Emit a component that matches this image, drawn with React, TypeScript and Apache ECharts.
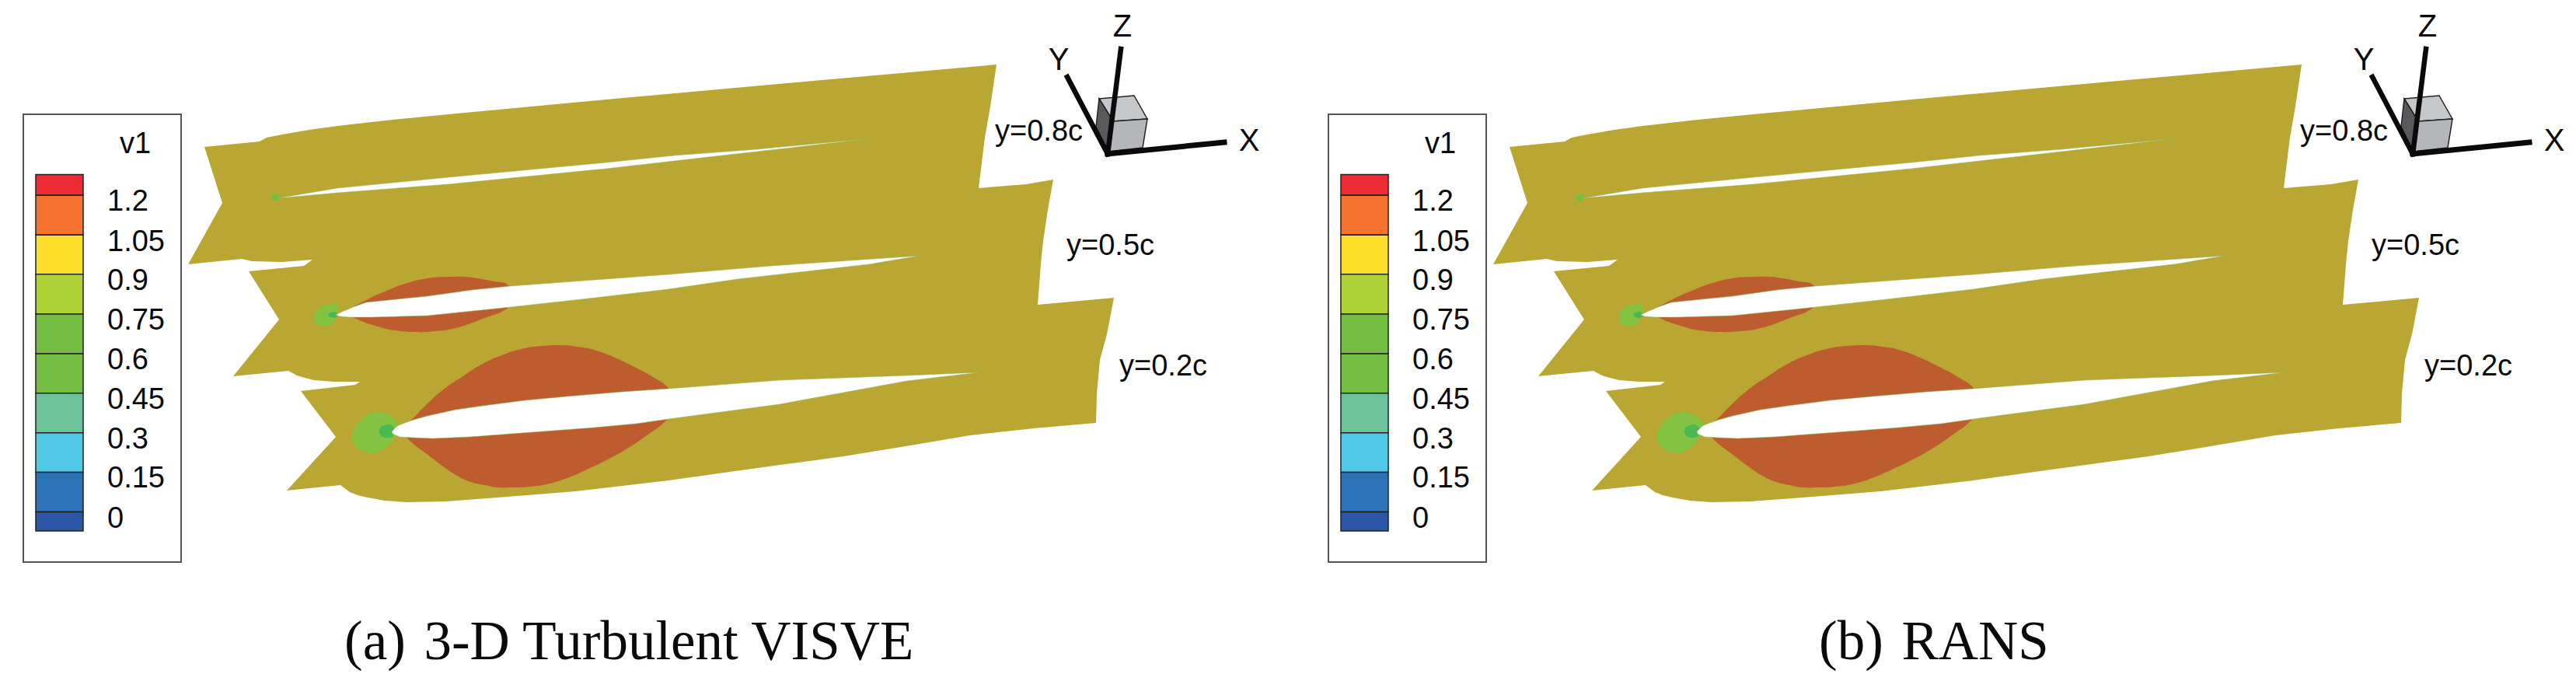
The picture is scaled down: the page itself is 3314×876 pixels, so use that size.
import React, { useEffect, useRef } from "react";
import * as echarts from "echarts";

type P = number[];

// Flow-domain outline of the three stacked slices
const domainOutline: P[] = [
  [263, 189], [334, 182], [343, 177], [363, 173], [398, 167], [434, 162], [505, 154], [577, 147], [780, 128], [1024, 106], [1282, 83],
  [1274, 137], [1267, 177], [1259, 242], [1320, 237], [1355, 231], [1348, 270], [1342, 310], [1339, 340], [1335, 392],
  [1433, 383], [1424, 430], [1415, 463], [1411, 507], [1410, 544], [1330, 551], [1248, 560], [1165, 574], [1085, 587], [960, 604], [860, 618], [740, 632],
  [640, 640], [573, 645], [523, 646], [495, 644], [473, 640], [460, 637], [450, 633], [438, 624], [369, 631], [432, 562], [387, 503],
  [457, 495], [463, 491], [430, 491], [404, 489], [392, 486], [382, 483], [371, 477], [300, 484], [359, 411], [320, 349], [391, 342],
  [402, 334], [363, 337], [324, 336], [311, 333], [242, 340], [286, 261],
];

// Airfoil sections (white cut-outs)
const foilTop: P[] = [
  [357, 255], [434, 242], [577, 228], [780, 209], [867, 200], [974, 192], [1112, 179],
  [1035, 188], [903, 203], [780, 217], [577, 237], [434, 248],
];
const foilMid: P[] = [
  [432, 405], [440, 401], [454, 395], [471, 389], [510, 385], [550, 381], [607, 373], [657, 368], [860, 353], [992, 342], [1183, 329],
  [1118, 340], [949, 359], [860, 372], [757, 384], [657, 395], [550, 406], [479, 408], [450, 408], [437, 407],
];
const foilBot: P[] = [
  [504, 555], [511, 548], [518, 545], [532, 540], [550, 535], [586, 527], [621, 522], [675, 515], [729, 510], [800, 504], [860, 500], [1003, 489], [1167, 483], [1260, 479],
  [1167, 490], [1003, 520], [860, 539], [818, 545], [764, 550], [711, 554], [657, 558], [604, 562], [557, 564], [532, 563], [514, 562], [505, 558],
];

// High-speed lobes around the sections
const lobeMid: P[] = [
  [454, 395], [479, 382], [500, 373], [521, 365], [550, 358], [579, 356], [597, 356], [614, 358], [635, 362], [654, 367], [660, 385], [652, 397], [621, 410],
  [586, 422], [560, 426], [532, 427], [508, 425], [486, 420], [454, 408], [445, 400],
];
const lobeBot: P[] = [
  [527, 542], [547, 522], [568, 503], [594, 485], [621, 468], [648, 456], [675, 448], [698, 445], [721, 444], [743, 446], [764, 450], [791, 460], [818, 473], [840, 485], [860, 499], [875, 520], [857, 541],
  [832, 560], [807, 577], [782, 591], [757, 603], [732, 614], [707, 622], [682, 626], [657, 627], [640, 627], [623, 624], [606, 620], [590, 613], [573, 602], [557, 590], [523, 563], [515, 550],
];

// Low-speed patches at the leading edges
const blobBot: P[] = [[511, 543], [496, 532], [484, 530], [468, 537], [455, 553], [455, 570], [471, 582], [489, 580], [505, 567], [509, 557]];
const blobBotCore: P[] = [[505, 548], [495, 547], [488, 553], [491, 561], [499, 563], [506, 560]];
const blobMid: P[] = [[434, 393], [421, 392], [407, 400], [404, 408], [409, 418], [425, 418], [432, 408]];
const blobMidCore: P[] = [[433, 402], [425, 402], [422, 405], [425, 408], [433, 408]];
const blobTop: P[] = [[358, 251], [352, 250], [349, 254], [352, 258], [358, 257]];

// Colour bar
const legendBounds = [224.5, 251.3, 302.2, 352.7, 404, 454.9, 505.8, 556.7, 607.6, 658.5, 683];
const legendColors = ["#ee2a35", "#f5732f", "#fddf2b", "#aed136", "#74bd43", "#74bd43", "#6cc29a", "#50c8e6", "#2b72b7", "#2a56a5"];
const legendLabels = ["1.2", "1.05", "0.9", "0.75", "0.6", "0.45", "0.3", "0.15", "0"];
const legendLabelY = [258, 310, 360, 411, 462, 513, 564, 614, 666];

// Orientation triad
const cubeTop: P[] = [[1414, 127], [1459, 123], [1476, 153], [1432, 156]];
const cubeFront: P[] = [[1432, 156], [1476, 153], [1470, 190], [1425, 195]];
const cubeLeft: P[] = [[1414, 127], [1432, 156], [1425, 195], [1410, 163]];
const axisX: P[] = [[1425, 198], [1575, 183]];
const axisY: P[] = [[1425, 198], [1373, 99]];
const axisZ: P[] = [[1425, 198], [1442, 63]];
const axisLabels: (string | number)[][] = [[1607, 180, "X"], [1362, 76, "Y"], [1444, 33, "Z"]];
const sliceLabels: (string | number)[][] = [[1280, 168, "y=0.8c"], [1372, 315, "y=0.5c"], [1440, 470, "y=0.2c"]];

const PANEL_B_SHIFT = 1679;

const C_DOMAIN = "#b9a633";
const C_LOBE = "#bd5c2f";
const C_BLOB = "#84c341";
const C_CORE = "#4cb950";
const SANS = "'Liberation Sans', Arial, sans-serif";

function poly(panel: number, pts: P[], style: any, smooth = 0) {
  return {
    type: "custom",
    xAxisIndex: panel,
    yAxisIndex: panel,
    silent: true,
    clip: false,
    data: pts,
    renderItem: (params: any, api: any) => {
      if (params.dataIndex !== 0) return null;
      return {
        type: "polygon",
        shape: { points: pts.map((p) => api.coord(p)), smooth },
        style,
      };
    },
  };
}

function line(panel: number, pts: P[], width: number) {
  return {
    type: "custom",
    xAxisIndex: panel,
    yAxisIndex: panel,
    silent: true,
    clip: false,
    data: pts,
    renderItem: (params: any, api: any) => {
      if (params.dataIndex !== 0) return null;
      return {
        type: "polyline",
        shape: { points: pts.map((p) => api.coord(p)) },
        style: { stroke: "#0a0a0a", lineWidth: width, fill: "none", lineCap: "square" },
      };
    },
  };
}

function texts(panel: number, items: (string | number)[][], font: string, align = "left") {
  return {
    type: "custom",
    xAxisIndex: panel,
    yAxisIndex: panel,
    silent: true,
    clip: false,
    data: items,
    renderItem: (params: any, api: any) => {
      const it = items[params.dataIndex];
      const c = api.coord([it[0], it[1]]);
      return {
        type: "text",
        x: c[0],
        y: c[1],
        style: { text: String(it[2]), font, fill: "#0a0a0a", align, verticalAlign: "middle" },
      };
    },
  };
}

function panelSeries(panel: number, caption: (string | number)[][]) {
  const list: any[] = [];
  list.push(poly(panel, domainOutline, { fill: C_DOMAIN }));
  list.push(poly(panel, lobeMid, { fill: C_LOBE }, 0.5));
  list.push(poly(panel, lobeBot, { fill: C_LOBE }, 0.5));
  list.push(poly(panel, blobBot, { fill: C_BLOB }, 0.5));
  list.push(poly(panel, blobBotCore, { fill: C_CORE }, 0.5));
  list.push(poly(panel, blobMid, { fill: C_BLOB }, 0.5));
  list.push(poly(panel, blobMidCore, { fill: C_CORE }, 0.5));
  list.push(poly(panel, blobTop, { fill: "#72bf44" }, 0.5));
  const foilStyle = { fill: "#ffffff", stroke: "rgba(140,190,90,0.55)", lineWidth: 1 };
  list.push(poly(panel, foilTop, foilStyle));
  list.push(poly(panel, foilMid, foilStyle));
  list.push(poly(panel, foilBot, foilStyle));

  // colour-bar frame
  list.push(poly(panel, [[30, 147], [233, 147], [233, 723], [30, 723]], { fill: "#ffffff", stroke: "#555555", lineWidth: 2 }));
  legendColors.forEach((color, i) => {
    const y0 = legendBounds[i];
    const y1 = legendBounds[i + 1];
    list.push(poly(panel, [[46, y0], [107, y0], [107, y1], [46, y1]], { fill: color, stroke: "#222222", lineWidth: 1.5 }));
  });
  list.push(texts(panel, [[154, 184, "v1"]], `38px ${SANS}`));
  list.push(texts(panel, legendLabels.map((t, i) => [138, legendLabelY[i], t]), `38px ${SANS}`));

  // triad
  const edge = { stroke: "#222222", lineWidth: 1.5 };
  list.push(poly(panel, cubeTop, { fill: "#c6c7c9", ...edge }));
  list.push(poly(panel, cubeFront, { fill: "#b5b6b9", ...edge }));
  list.push(poly(panel, cubeLeft, { fill: "#58595b", ...edge }));
  list.push(line(panel, axisY, 6.5));
  list.push(line(panel, axisZ, 6.5));
  list.push(line(panel, axisX, 7));
  list.push(texts(panel, axisLabels, `40px ${SANS}`, "center"));
  list.push(texts(panel, sliceLabels, `38px ${SANS}`));
  list.push(texts(panel, caption, "71px 'Liberation Serif', 'Times New Roman', serif"));
  return list;
}

const captionA: (string | number)[][] = [[443, 824, "(a)\u20043-D Turbulent VISVE"]];
const captionB: (string | number)[][] = [[661, 824, "(b)\u2004RANS"]];

export default function App() {
  const ref = useRef<HTMLDivElement>(null);
  useEffect(() => {
    document.body.style.margin = "0";
    const chart = echarts.init(ref.current!, undefined, { renderer: "svg" });
    const hiddenX = (min: number, gridIndex: number) => ({ type: "value", gridIndex, min, max: min + 3314, show: false });
    const hiddenY = (gridIndex: number) => ({ type: "value", gridIndex, min: 0, max: 876, inverse: true, show: false });
    chart.setOption({
      animation: false,
      backgroundColor: "#ffffff",
      tooltip: { show: false },
      grid: [
        { left: 0, right: 0, top: 0, bottom: 0 },
        { left: 0, right: 0, top: 0, bottom: 0 },
      ],
      xAxis: [hiddenX(0, 0), hiddenX(-PANEL_B_SHIFT, 1)],
      yAxis: [hiddenY(0), hiddenY(1)],
      series: [...panelSeries(0, captionA), ...panelSeries(1, captionB)],
    });
    return () => chart.dispose();
  }, []);
  return <div ref={ref} style={{ width: 3314, height: 876 }} />;
}
